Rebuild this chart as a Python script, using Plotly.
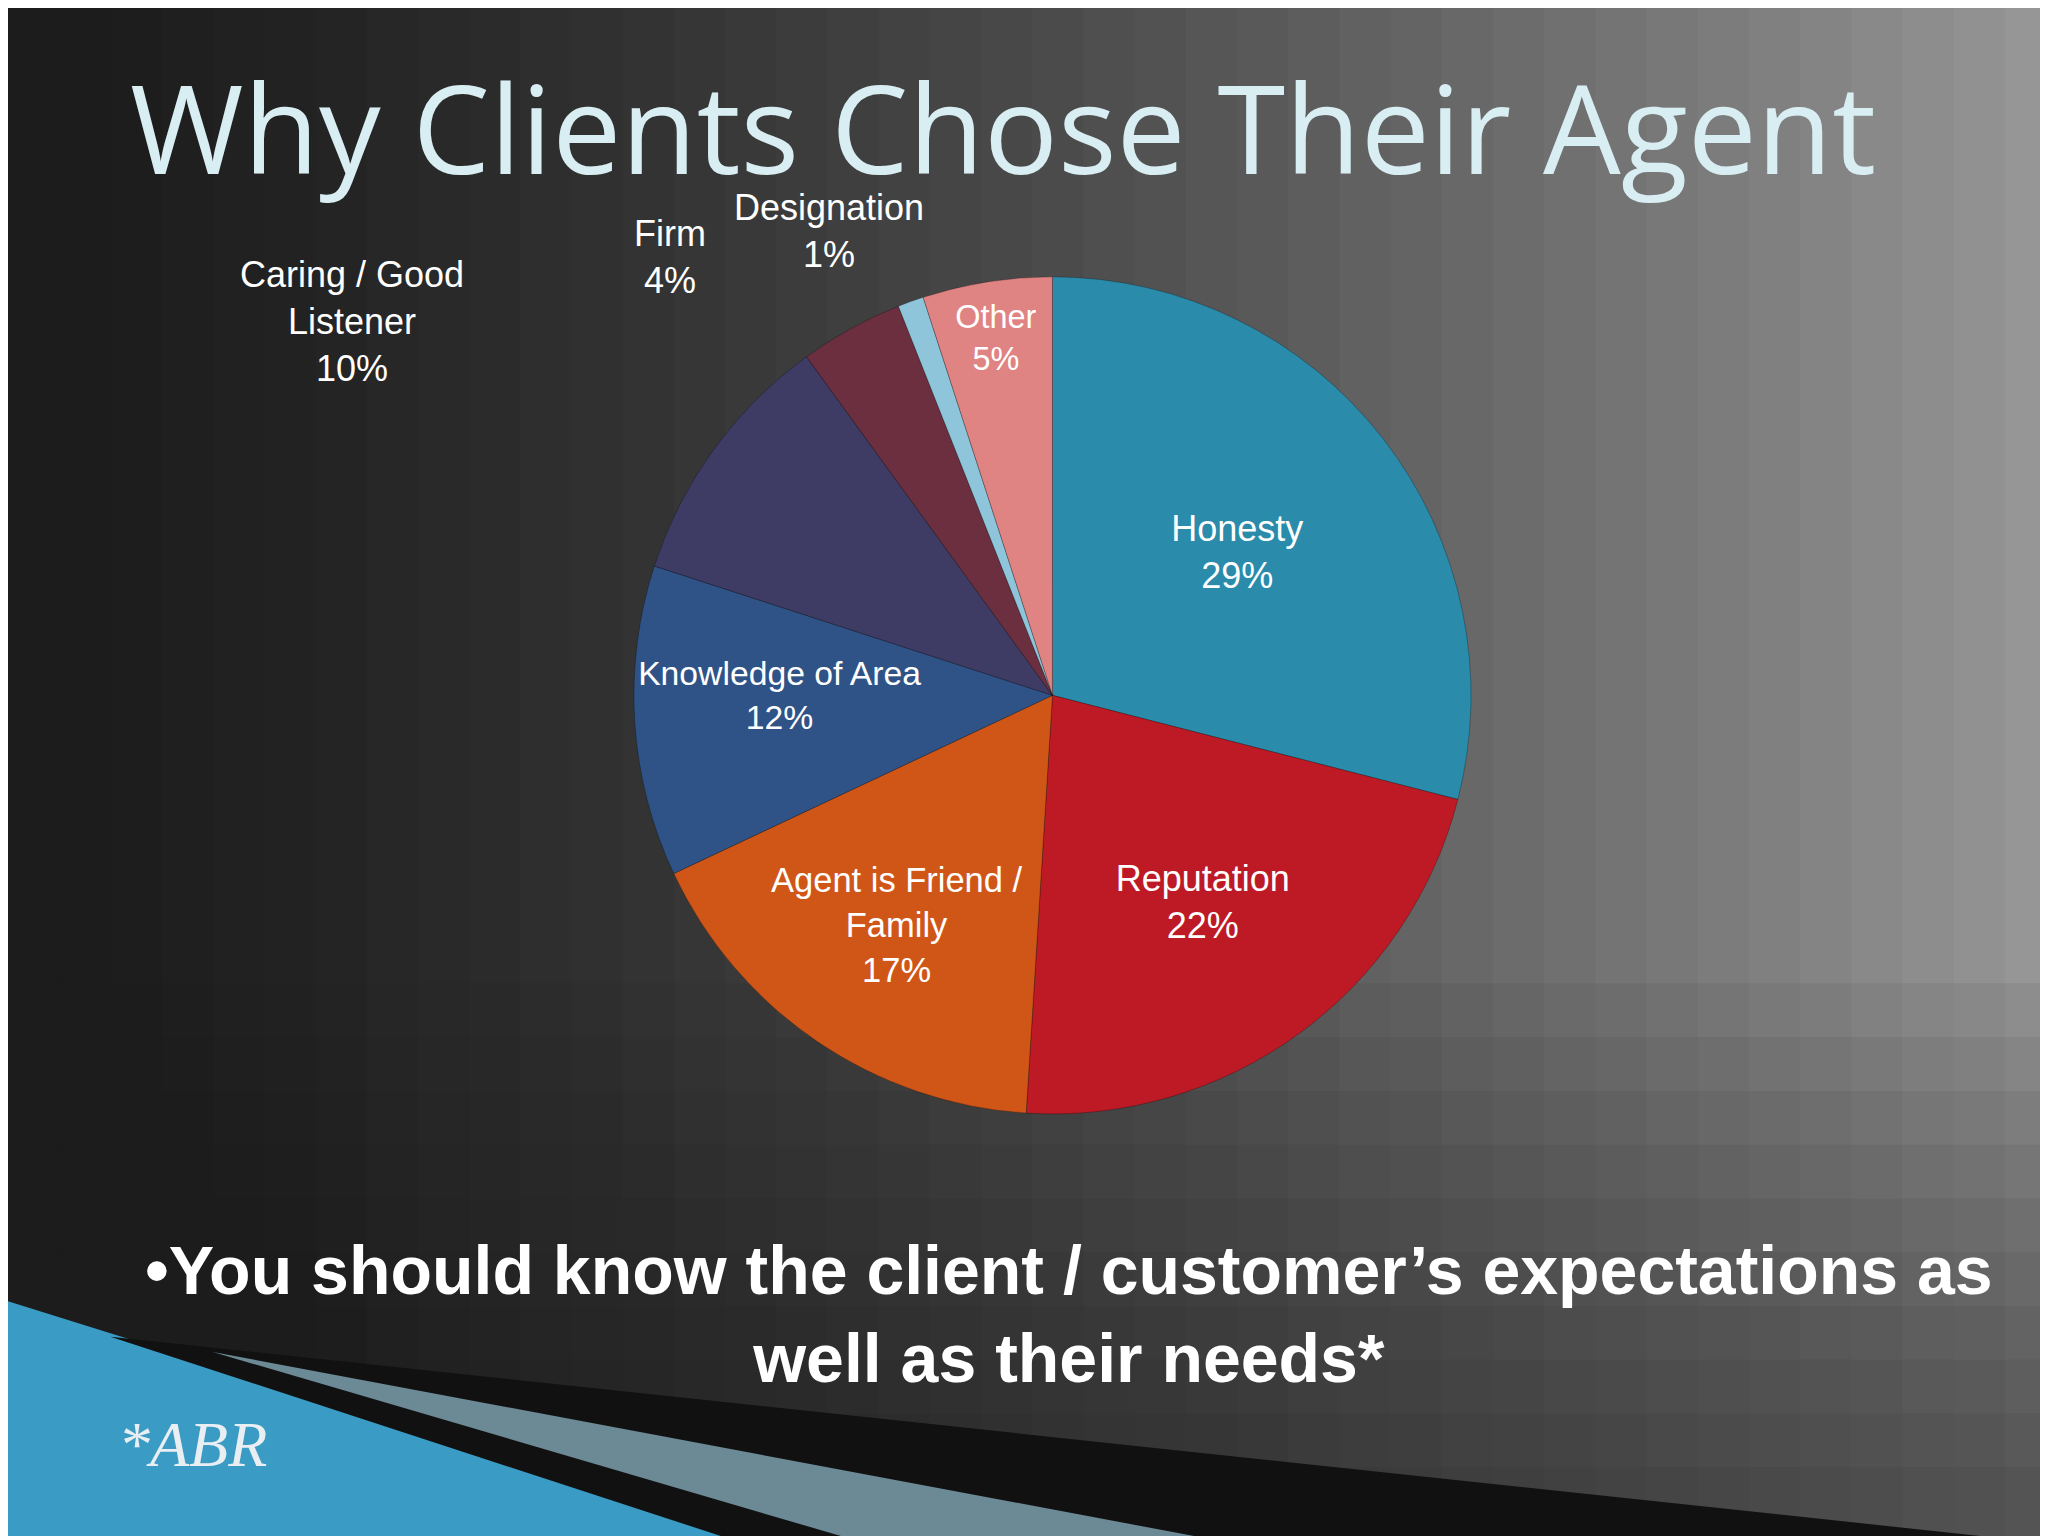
import plotly.graph_objects as go

labels = ["Honesty", "Reputation", "Agent is Friend /<br>Family", "Knowledge of Area",
          "Caring / Good<br>Listener", "Firm", "Designation", "Other"]
values = [29, 22, 17, 12, 10, 4, 1, 5]
colors = ["#2a8bab", "#be1a25", "#d05618", "#2f5386", "#3e3c64", "#6b2f40", "#8fc5da", "#e08383"]
# small slices get their labels placed outside as annotations
outside_pos = {4: (0.168, 0.796), 5: (0.323, 0.838), 6: (0.401, 0.855)}

texts = []
for i, (lab, v) in enumerate(zip(labels, values)):
    texts.append("" if i in outside_pos else f"{lab}<br>{v}%")

fig = go.Figure()

fig.add_trace(go.Pie(
    labels=labels, values=values, sort=False, direction="clockwise", rotation=0,
    marker=dict(colors=colors, line=dict(color="rgba(0,0,0,0.25)", width=1)),
    text=texts, textinfo="text", textposition="inside",
    insidetextorientation="horizontal",
    textfont=dict(family="Liberation Sans, Arial", size=36, color="white"),
    domain=dict(x=[0.1, 0.92], y=[0.28, 0.825]),
    showlegend=False, hoverinfo="label+percent",
))

shapes = []
# background: dark on the left, light grey on the upper right
n = 40
for i in range(n):
    t = i / (n - 1)
    c = int(28 + (150 - 28) * t ** 1.4)
    shapes.append(dict(type="rect", xref="paper", yref="paper",
                       x0=i / n, x1=(i + 1) / n + 0.002, y0=0, y1=1,
                       fillcolor=f"rgb({c},{c},{c})", line_width=0, layer="below"))
for i in range(10):
    shapes.append(dict(type="rect", xref="paper", yref="paper",
                       x0=0, x1=1, y0=0, y1=0.05 + i * 0.035,
                       fillcolor="rgba(30,30,30,0.07)", line_width=0, layer="below"))
# bands bottom-left
shapes.append(dict(type="path", xref="paper", yref="paper",
                   path="M 0 0.158 L 0.38 0 L 0 0 Z", fillcolor="#3a9cc4", line_width=0))
shapes.append(dict(type="path", xref="paper", yref="paper",
                   path="M 0.05 0.135 L 1.0 0.0 L 0.36 0 Z", fillcolor="#111111", line_width=0))
shapes.append(dict(type="path", xref="paper", yref="paper",
                   path="M 0.1 0.125 L 0.6 0.0 L 0.42 0.0 Z", fillcolor="#6c8a96", line_width=0))

annotations = [
    dict(text="Why Clients Chose Their Agent", x=0.486, y=0.923,
         font=dict(family="Open Sans, DejaVu Sans", size=123, color="#d9eef2")),
    dict(text="<b>•You should know the client / customer’s expectations as<br>well as their needs*</b>",
         x=0.518, y=0.150,
         font=dict(family="Liberation Sans, Arial", size=68, color="white")),
    dict(text="<i>*ABR</i>", x=0.09, y=0.065,
         font=dict(family="Liberation Serif", size=64, color="#e8eef2")),
]
for i, (x, y) in outside_pos.items():
    annotations.append(dict(text=f"{labels[i]}<br>{values[i]}%", x=x, y=y,
                            font=dict(family="Liberation Sans, Arial", size=36, color="white")))
for a in annotations:
    a.update(xref="paper", yref="paper", xanchor="center", yanchor="middle", showarrow=False)

fig.update_layout(
    width=2048, height=1536,
    margin=dict(l=0, r=0, t=0, b=0, autoexpand=False),
    paper_bgcolor="#3b3b3b",
    shapes=shapes, annotations=annotations,
)

fig.write_html("out.html")
